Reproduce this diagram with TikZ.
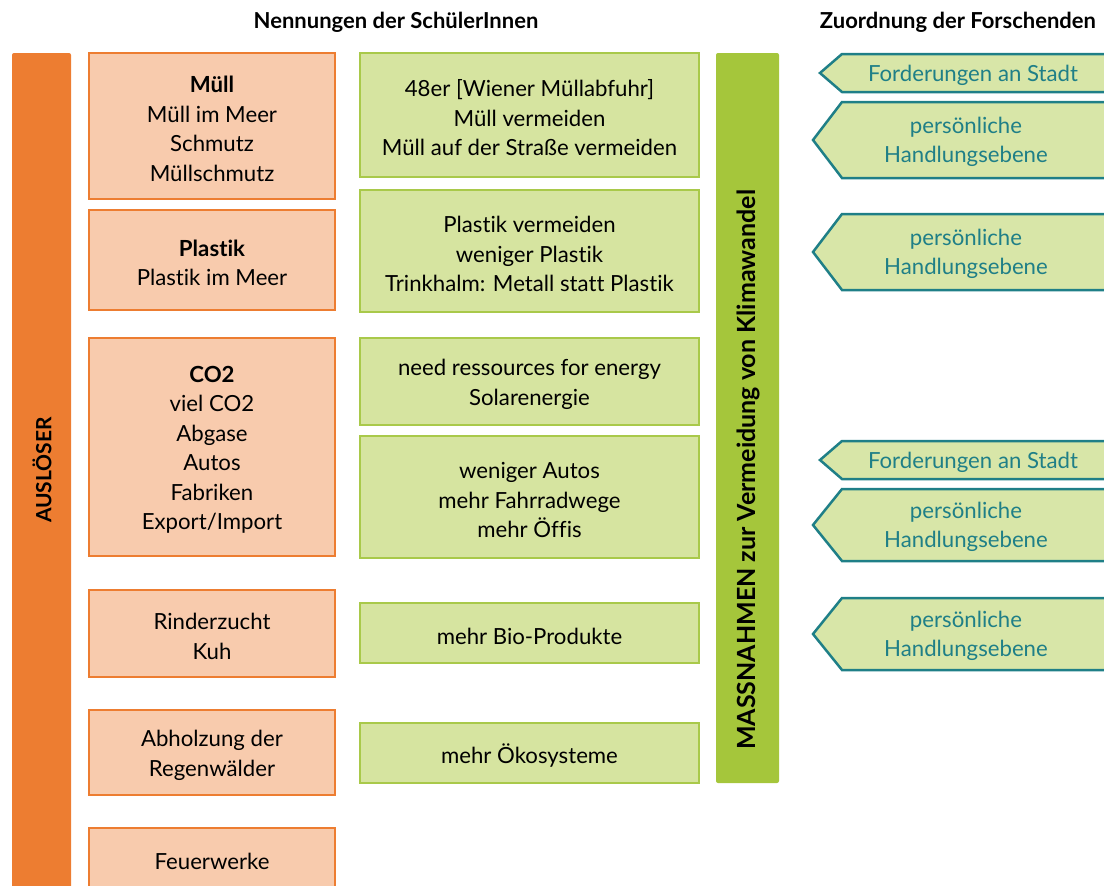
\documentclass[tikz,border=0pt]{standalone}
\usepackage{fontspec}
\setmainfont{Lato}[Ligatures=NoCommon]
\usetikzlibrary{fit}
\definecolor{orBar}{HTML}{ED7D31}
\definecolor{orF}{HTML}{F8CBAD}
\definecolor{grBar}{HTML}{A5C63B}
\definecolor{grF}{HTML}{D6E4A0}
\definecolor{grB}{HTML}{A9C94A}
\definecolor{teal}{HTML}{1F7F87}
\definecolor{arF}{HTML}{D8E6A8}
\newcommand{\fs}{\fontsize{22.2}{29.5}\selectfont}
\tikzset{
  obox/.style={draw=orBar, fill=orF, line width=2.5pt, inner sep=0pt},
  gbox/.style={draw=grB, fill=grF, line width=2.5pt, inner sep=0pt},
  btext/.style={font=\fs, align=center, text=black, inner sep=0pt, yshift=-3pt},
  arrshape/.style={draw=teal, fill=arF, line width=2.5pt, line join=miter},
  arrtext/.style={font=\fs, text=teal, align=center, inner sep=0pt, yshift=-2pt},
  head/.style={font=\bfseries\fontsize{22}{26}\selectfont, text=black},
}
\begin{document}
\begin{tikzpicture}[x=1pt,y=-1pt]
\useasboundingbox (0,0) rectangle (1104,886);
% headers
\node[head] (h1) at (396,22) {Nennungen der SchülerInnen};
\node[head] (h2) at (958,22) {Zuordnung der Forschenden};
% left bar
\fill[orBar, rounded corners=2pt] (12,53) rectangle (71,900);
\node[font=\bfseries\fontsize{21}{25}\selectfont, rotate=90] (ausl) at (42,470) {AUSLÖSER};
% orange boxes
\node[obox, fit={(89,53) (335,199)}] (o1) {};
\node[btext] at (o1.center) {\textbf{Müll}\\Müll im Meer\\Schmutz\\Müllschmutz};
\node[obox, fit={(89,210) (335,310)}] (o2) {};
\node[btext] at (o2.center) {\textbf{Plastik}\\Plastik im Meer};
\node[obox, fit={(89,338) (335,556)}] (o3) {};
\node[btext] at (o3.center) {\textbf{CO2}\\viel CO2\\Abgase\\Autos\\Fabriken\\Export/Import};
\node[obox, fit={(89,590) (335,677)}] (o4) {};
\node[btext] at (o4.center) {Rinderzucht\\Kuh};
\node[obox, fit={(89,710) (335,795)}] (o5) {};
\node[btext] at (o5.center) {Abholzung der\\Regenwälder};
\node[obox, fit={(89,828) (335,905)}] (o6) {};
\node[btext] (o6t) at (212,858) {Feuerwerke};
% green boxes
\node[gbox, fit={(360,53) (699,177)}] (g1) {};
\node[btext] at (g1.center) {48er [Wiener Müllabfuhr]\\Müll vermeiden\\Müll auf der Straße vermeiden};
\node[gbox, fit={(360,190) (699,312)}] (g2) {};
\node[btext] at (g2.center) {Plastik vermeiden\\weniger Plastik\\Trinkhalm: Metall statt Plastik};
\node[gbox, fit={(360,338) (699,425)}] (g3) {};
\node[btext] at (g3.center) {need ressources for energy\\Solarenergie};
\node[gbox, fit={(360,436) (699,558)}] (g4) {};
\node[btext] at (g4.center) {weniger Autos\\mehr Fahrradwege\\mehr Öffis};
\node[gbox, fit={(360,603) (699,663)}] (g5) {};
\node[btext] at (g5.center) {mehr Bio-Produkte};
\node[gbox, fit={(360,723) (699,783)}] (g6) {};
\node[btext] at (g6.center) {mehr Ökosysteme};
% green bar
\fill[grBar, rounded corners=2pt] (716,53) rectangle (779,783);
\node[font=\bfseries\fontsize{25}{28}\selectfont, rotate=90] (mass) at (748,470) {MASSNAHMEN zur Vermeidung von Klimawandel};
% arrows
\draw[arrshape] (1115,54) -- (842,54) -- (820,73) -- (842,92) -- (1115,92);
\node[arrtext] (a1) at (973,73) {Forderungen an Stadt};
\draw[arrshape] (1115,102) -- (842,102) -- (813,140) -- (842,178) -- (1115,178);
\node[arrtext] (a2) at (966,140) {persönliche\\Handlungsebene};
\draw[arrshape] (1115,214) -- (842,214) -- (813,252) -- (842,290) -- (1115,290);
\node[arrtext] (a3) at (966,252) {persönliche\\Handlungsebene};
\draw[arrshape] (1115,441) -- (842,441) -- (820,460) -- (842,479) -- (1115,479);
\node[arrtext] (a4) at (973,460) {Forderungen an Stadt};
\draw[arrshape] (1115,489) -- (842,489) -- (813,525) -- (842,561) -- (1115,561);
\node[arrtext] (a5) at (966,525) {persönliche\\Handlungsebene};
\draw[arrshape] (1115,598) -- (842,598) -- (813,634) -- (842,670) -- (1115,670);
\node[arrtext] (a6) at (966,634) {persönliche\\Handlungsebene};
\end{tikzpicture}
\end{document}
